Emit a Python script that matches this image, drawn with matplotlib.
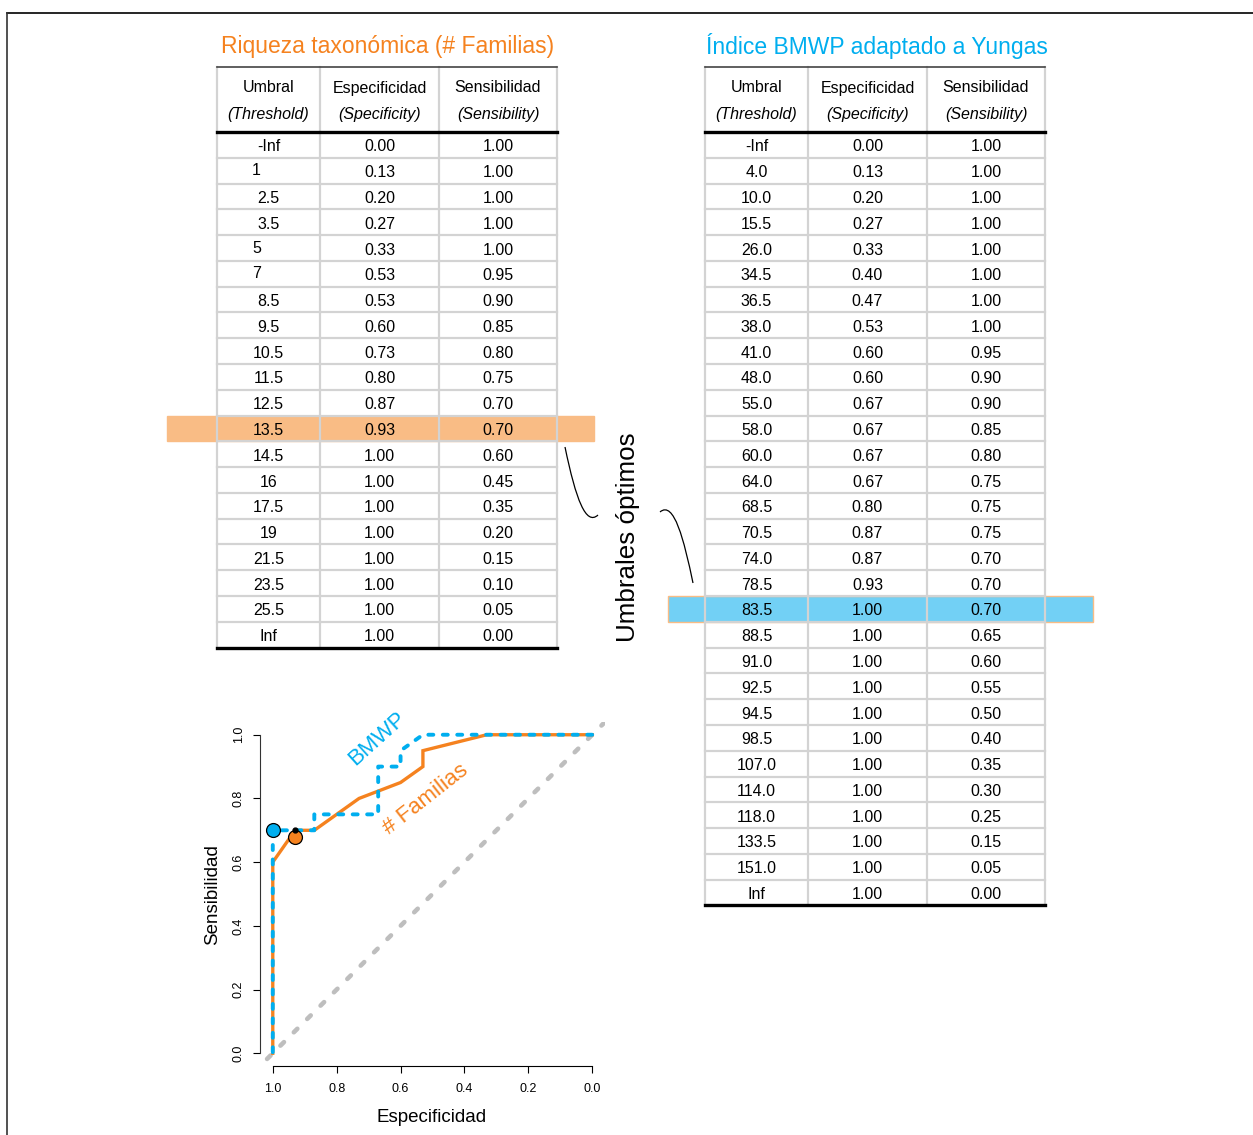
import matplotlib
matplotlib.use("Agg")
import matplotlib.pyplot as plt
from matplotlib.patches import Rectangle, PathPatch
from matplotlib.path import Path

plt.rcParams['font.family'] = ['Liberation Sans', 'DejaVu Sans']
plt.rcParams['lines.scale_dashes'] = False

W, H = 1253, 1135
ORANGE = "#F5821F"
BLUE = "#00AEEF"
HL_ORANGE = "#F9BC85"
HL_BLUE = "#72D0F5"
GRID = "#D3D3D3"

# ---------------- data ----------------
fam_thr = ["-Inf", "1", "2.5", "3.5", "5", "7", "8.5", "9.5", "10.5", "11.5",
           "12.5", "13.5", "14.5", "16", "17.5", "19", "21.5", "23.5", "25.5", "Inf"]
fam_spec = [0.00, 0.13, 0.20, 0.27, 0.33, 0.53, 0.53, 0.60, 0.73, 0.80,
            0.87, 0.93, 1.00, 1.00, 1.00, 1.00, 1.00, 1.00, 1.00, 1.00]
fam_sens = [1.00, 1.00, 1.00, 1.00, 1.00, 0.95, 0.90, 0.85, 0.80, 0.75,
            0.70, 0.70, 0.60, 0.45, 0.35, 0.20, 0.15, 0.10, 0.05, 0.00]
fam_best = 11

bmwp_thr = ["-Inf", "4.0", "10.0", "15.5", "26.0", "34.5", "36.5", "38.0", "41.0", "48.0",
            "55.0", "58.0", "60.0", "64.0", "68.5", "70.5", "74.0", "78.5", "83.5", "88.5",
            "91.0", "92.5", "94.5", "98.5", "107.0", "114.0", "118.0", "133.5", "151.0", "Inf"]
bmwp_spec = [0.00, 0.13, 0.20, 0.27, 0.33, 0.40, 0.47, 0.53, 0.60, 0.60,
             0.67, 0.67, 0.67, 0.67, 0.80, 0.87, 0.87, 0.93, 1.00, 1.00,
             1.00, 1.00, 1.00, 1.00, 1.00, 1.00, 1.00, 1.00, 1.00, 1.00]
bmwp_sens = [1.00, 1.00, 1.00, 1.00, 1.00, 1.00, 1.00, 1.00, 0.95, 0.90,
             0.90, 0.85, 0.80, 0.75, 0.75, 0.75, 0.70, 0.70, 0.70, 0.65,
             0.60, 0.55, 0.50, 0.40, 0.35, 0.30, 0.25, 0.15, 0.05, 0.00]
bmwp_best = 18

header_top = ["Umbral", "Especificidad", "Sensibilidad"]
header_bot = ["(Threshold)", "(Specificity)", "(Sensibility)"]

# optimal points drawn on ROC plot (orange one slightly offset in original)
fam_opt_pt = (0.93, 0.68)
fam_opt_dot = (0.93, 0.70)
bmwp_opt_pt = (1.00, 0.70)

roc_ticks = [1.0, 0.8, 0.6, 0.4, 0.2, 0.0]

# ---------------- figure ----------------
fig = plt.figure(figsize=(W / 100, H / 100), dpi=100)

ROW = 25.78
HDR_PX = 65
COLS = [0, 103, 222, 340]
TXT_DY = 2 / ROW


def draw_table(left_px, top_px, thr, spec, sens, best, hl_color, hl_ext):
    n = len(thr)
    hdr = HDR_PX / ROW
    width = COLS[-1]
    height_px = HDR_PX + n * ROW
    ax = fig.add_axes([left_px / W, 1 - (top_px + height_px) / H, width / W, height_px / H])
    ax.set_xlim(0, width)
    ax.set_ylim(n, -hdr)
    ax.axis('off')
    ax.add_patch(Rectangle((-hl_ext[0], best), width + hl_ext[0] + hl_ext[1], 1,
                           fc=hl_color, ec=HL_ORANGE, lw=1.0, clip_on=False, zorder=1))
    for i in range(1, n):
        ax.plot([0, width], [i, i], color=GRID, lw=1.6, zorder=2, clip_on=False)
    for x in COLS:
        ax.plot([x, x], [-hdr, n], color=GRID, lw=1.6, zorder=2, clip_on=False)
    ax.plot([0, width], [-hdr, -hdr], color="#444444", lw=1.2, zorder=3, clip_on=False)
    ax.plot([0, width], [0, 0], color="black", lw=2.4, zorder=3, clip_on=False)
    ax.plot([0, width], [n, n], color="black", lw=2.4, zorder=3, clip_on=False)
    centers = [(COLS[j] + COLS[j + 1]) / 2 for j in range(3)]
    for j in range(3):
        ax.text(centers[j], -hdr + 21 / ROW, header_top[j], ha='center', va='center',
                fontsize=11.5, zorder=4)
        ax.text(centers[j], -hdr + 47.5 / ROW, header_bot[j], ha='center', va='center',
                fontsize=11.5, style='italic', zorder=4)
    for i in range(n):
        lab = thr[i]
        dx, dy = (-12, -2 / ROW) if len(lab) == 1 else (0, 0)
        ax.text(centers[0] + dx, i + 0.5 + TXT_DY + dy, lab, ha='center', va='center',
                fontsize=11.5, zorder=4)
        ax.text(centers[1], i + 0.5 + TXT_DY, f"{spec[i]:.2f}", ha='center', va='center',
                fontsize=11.5, zorder=4)
        ax.text(centers[2], i + 0.5 + TXT_DY, f"{sens[i]:.2f}", ha='center', va='center',
                fontsize=11.5, zorder=4)
    return ax


draw_table(217, 67, fam_thr, fam_spec, fam_sens, fam_best, HL_ORANGE, (50, 37))
draw_table(705, 67, bmwp_thr, bmwp_spec, bmwp_sens, bmwp_best, HL_BLUE, (37, 48))

fig.text(388 / W, 1 - 46 / H, "Riqueza taxonómica (# Familias)", color=ORANGE,
         fontsize=16.5, ha='center', va='center')
fig.text(877 / W, 1 - 46 / H, "Índice BMWP adaptado a Yungas", color=BLUE,
         fontsize=16.5, ha='center', va='center')
fig.text(628 / W, 1 - 537 / H, "Umbrales óptimos", rotation=90, fontsize=18.7,
         ha='center', va='center')

# ---------------- ROC plot ----------------
ax = fig.add_axes([260 / W, 1 - 1066 / H, 345 / W, 344 / H])
ax.set_xlim(1.04, -0.04)
ax.set_ylim(-0.04, 1.04)
ax.patch.set_alpha(0)
ax.axline((1, 0), (0, 1), color="#BEBEBE", lw=3.3, dashes=(3.6, 10.0),
          dash_capstyle='round', zorder=1)
ax.plot(fam_spec, fam_sens, color=ORANGE, lw=2.4, zorder=2, solid_joinstyle='miter')
ax.plot(bmwp_spec, bmwp_sens, color=BLUE, lw=2.8, dashes=(3.6, 6.8),
        dash_capstyle='round', zorder=3)
ax.plot(*bmwp_opt_pt, 'o', ms=10, mfc=BLUE, mec='black', mew=0.9, zorder=5, clip_on=False)
ax.plot(*fam_opt_pt, 'o', ms=10, mfc=ORANGE, mec='black', mew=0.9, zorder=5)
ax.plot(*fam_opt_dot, 'o', ms=3.5, color='black', zorder=6)

for s in ['top', 'right']:
    ax.spines[s].set_visible(False)
ax.spines['left'].set_bounds(0, 1)
ax.spines['bottom'].set_bounds(0, 1)
ax.spines['left'].set_color('#333333')
ax.set_xticks(roc_ticks)
ax.set_xticklabels([f"{t:.1f}" for t in roc_ticks])
ax.set_yticks(roc_ticks)
ax.set_yticklabels([f"{t:.1f}" for t in roc_ticks], rotation=90, va='center')
ax.tick_params(length=5, width=0.8, labelsize=9)
ax.tick_params(axis='y', pad=6)
ax.tick_params(axis='x', pad=7)

fig.text(213 / W, 1 - 895 / H, "Sensibilidad", rotation=90, fontsize=13.5,
         ha='center', va='center')
fig.text(432 / W, 1 - 1118 / H, "Especificidad", fontsize=13.5, ha='center', va='center')
fig.text(377 / W, 1 - 739 / H, "BMWP", rotation=42, color=BLUE, fontsize=16,
         ha='center', va='center')
fig.text(426 / W, 1 - 799 / H, "# Familias", rotation=38, color=ORANGE, fontsize=16,
         ha='center', va='center')

# ---------------- overlay: frame & connectors ----------------
ov = fig.add_axes([0, 0, 1, 1], zorder=-1)
ov.set_xlim(0, W)
ov.set_ylim(H, 0)
ov.axis('off')
ov.plot([7, W], [13, 13], color='black', lw=1.2, clip_on=False)
ov.plot([7, 7], [13, H], color='#333333', lw=1.2, clip_on=False)
p1 = Path([(565, 447), (576, 500), (586, 526), (598, 515)],
          [Path.MOVETO, Path.CURVE4, Path.CURVE4, Path.CURVE4])
p2 = Path([(660, 512), (674, 500), (684, 540), (693, 583)],
          [Path.MOVETO, Path.CURVE4, Path.CURVE4, Path.CURVE4])
for p in (p1, p2):
    ov.add_patch(PathPatch(p, fill=False, ec='black', lw=0.9))

fig.savefig("out.png", dpi=100)
